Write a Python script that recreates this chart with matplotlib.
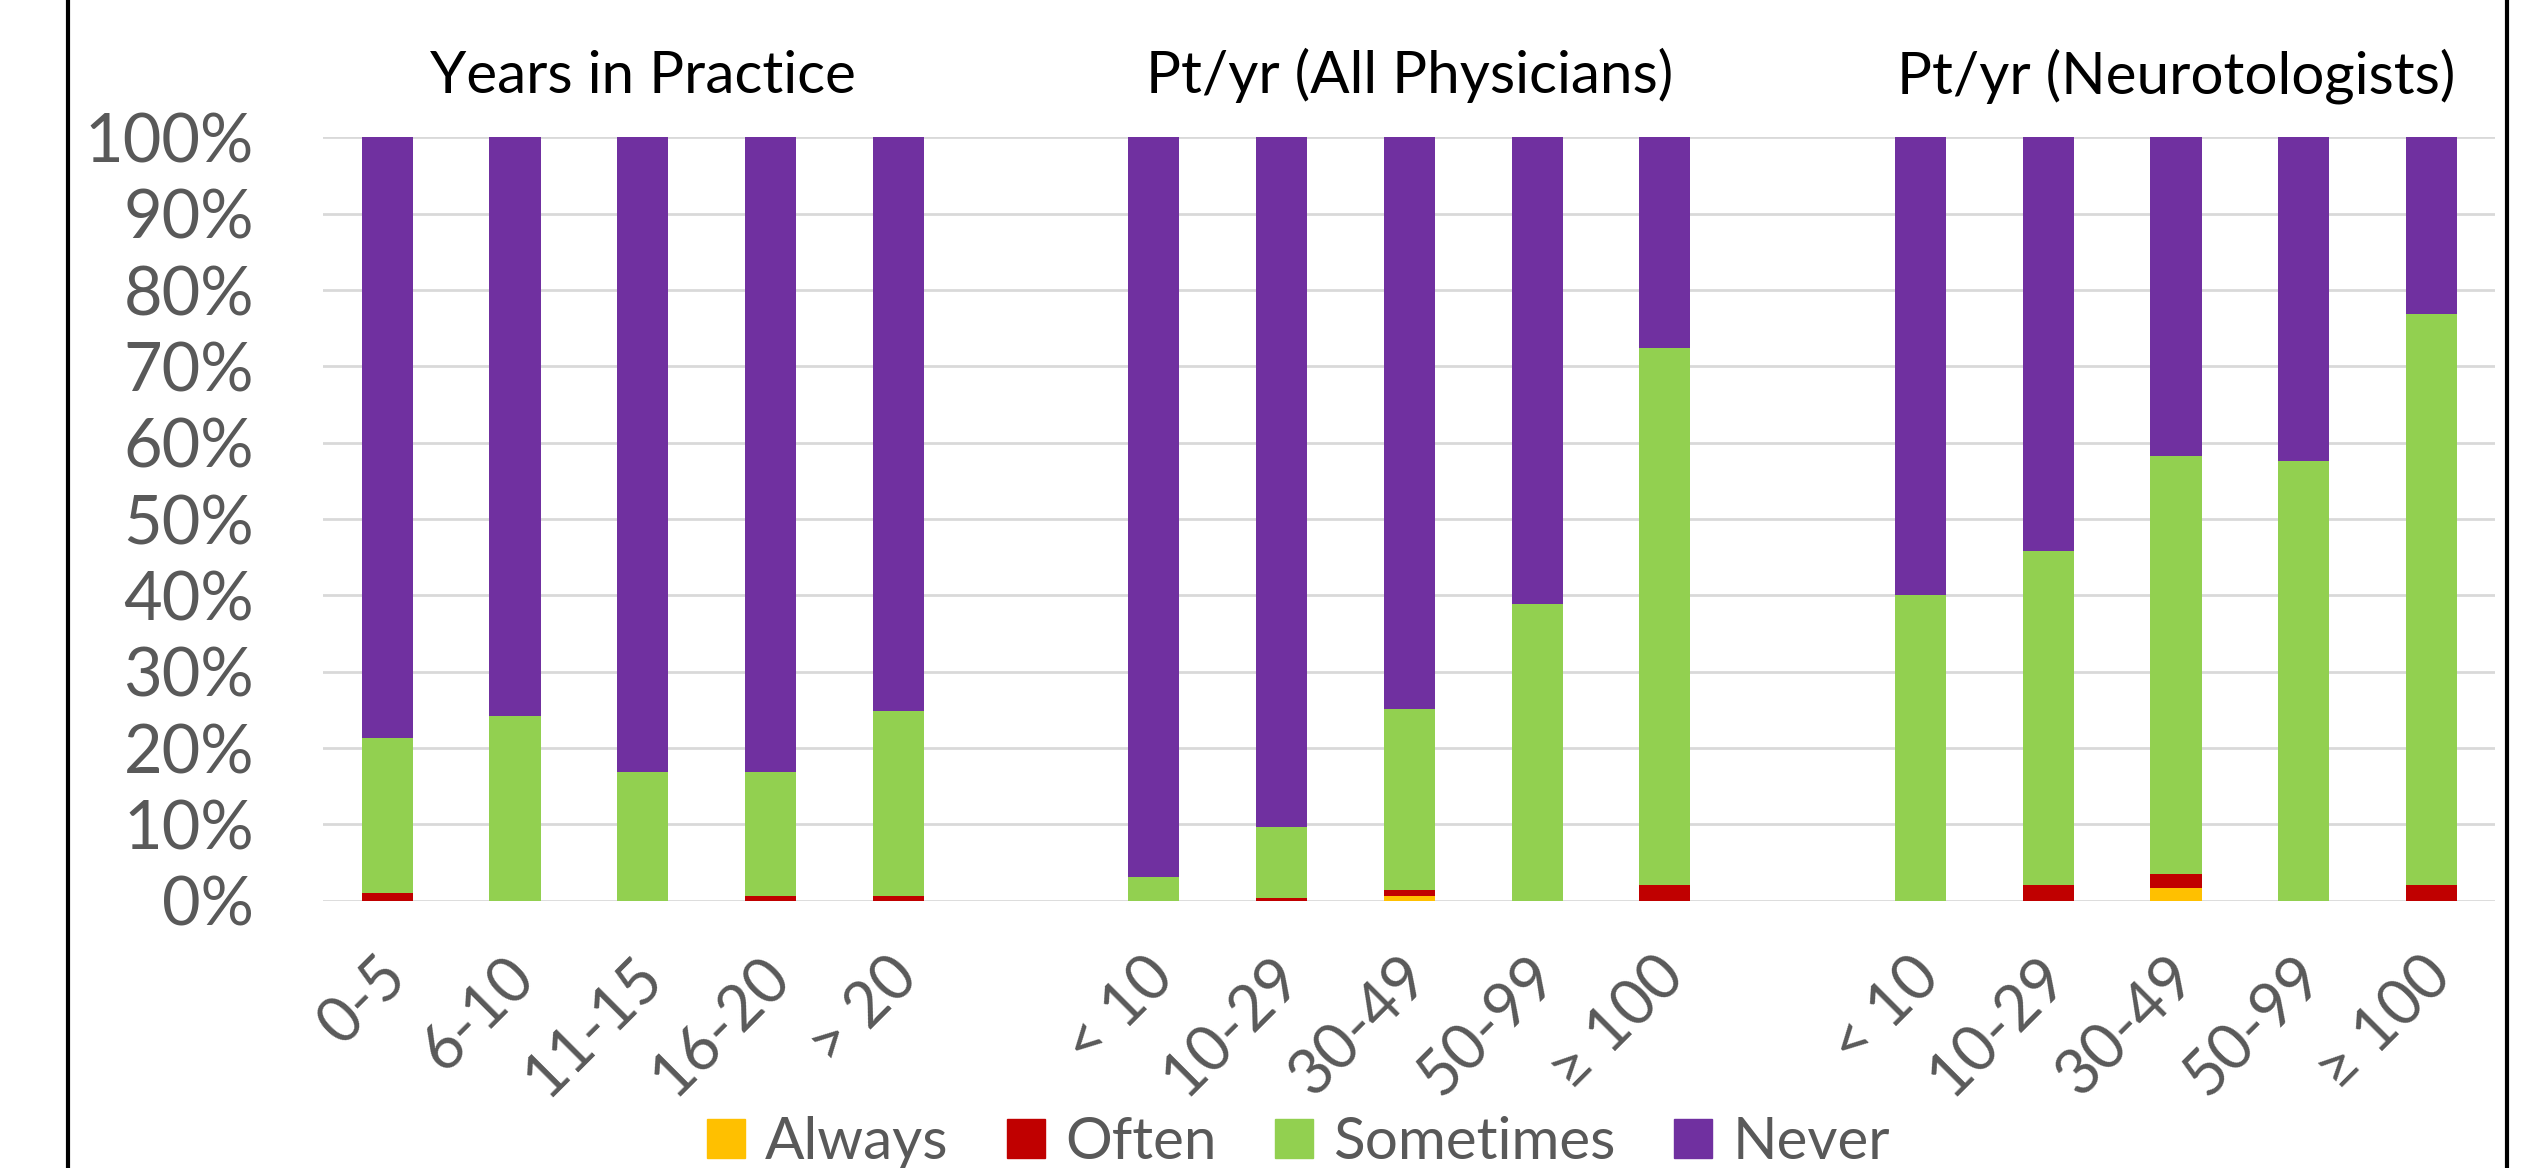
import numpy as np
import matplotlib
matplotlib.use('Agg')
import matplotlib.pyplot as plt
import matplotlib.transforms as mtransforms
from matplotlib.lines import Line2D
from matplotlib.patches import Patch

plt.rcParams['font.family'] = ['Lato', 'DejaVu Sans']

# groups of bars (percent of respondents)
group_titles = ['Years in Practice', 'Pt/yr (All Physicians)', 'Pt/yr (Neurotologists)']
years_labels = ['0-5', '6-10', '11-15', '16-20', '> 20']
pt_labels = ['< 10', '10-29', '30-49', '50-99', '≥ 100']

always_years = [0, 0, 0, 0, 0]
often_years = [1.0, 0, 0, 0.65, 0.65]
sometimes_years = [20.3, 24.2, 16.9, 16.25, 24.2]
never_years = [78.7, 75.8, 83.1, 83.1, 75.15]

always_all = [0, 0, 0.65, 0, 0]
often_all = [0, 0.3, 0.7, 0, 2.0]
sometimes_all = [3.1, 9.4, 23.75, 38.9, 70.4]
never_all = [96.9, 90.3, 74.9, 61.1, 27.6]

always_neuro = [0, 0, 1.7, 0, 0]
often_neuro = [0, 2.0, 1.8, 0, 2.0]
sometimes_neuro = [40.0, 43.8, 54.7, 57.6, 74.85]
never_neuro = [60.0, 54.2, 41.8, 42.4, 23.15]

series_names = ['Always', 'Often', 'Sometimes', 'Never']
colors = ['#FFC000', '#C00000', '#92D050', '#7030A0']
grey = '#595959'

groups = [
    (years_labels, [always_years, often_years, sometimes_years, never_years]),
    (pt_labels, [always_all, often_all, sometimes_all, never_all]),
    (pt_labels, [always_neuro, often_neuro, sometimes_neuro, never_neuro]),
]

fig = plt.figure(figsize=(25.36, 11.68), dpi=100)
ax = fig.add_axes([0.1275, 0.2289, 0.8565, 0.6534])

trans = mtransforms.blended_transform_factory(ax.transData, ax.transAxes)
tick_pos = []
tick_lab = []
for g, (labels, series) in enumerate(groups):
    x = np.arange(len(labels)) + g * 6
    bottom = np.zeros(len(labels))
    for vals, c in zip(series, colors):
        ax.bar(x, vals, 0.4, bottom=bottom, color=c, zorder=2)
        bottom += np.array(vals)
    tick_pos += list(x)
    tick_lab += labels
    ax.text(x.mean(), 1.058, group_titles[g], transform=trans, ha='center',
            va='baseline', fontsize=42, color='black')

ax.set_xlim(-0.5, 16.5)
ax.set_ylim(0, 100)
ax.set_yticks(range(0, 101, 10))
ax.set_yticklabels(['%d%%' % v for v in range(0, 101, 10)])
ax.set_xticks(tick_pos)
ax.set_xticklabels(tick_lab, rotation=45, ha='right', va='center',
                   rotation_mode='anchor')
ax.yaxis.grid(True, color='#D9D9D9', linewidth=2)
ax.set_axisbelow(True)
for s in ax.spines.values():
    s.set_visible(False)
ax.tick_params(axis='y', length=0, labelsize=48, colors=grey, pad=50)
ax.tick_params(axis='x', length=0, labelsize=45, colors=grey, pad=48)

# nudge rotated labels to the right, like Excel does
shift = mtransforms.ScaledTranslation(10 / 100, 0, fig.dpi_scale_trans)
for lab in ax.get_xticklabels():
    lab.set_transform(lab.get_transform() + shift)

handles = [Patch(color=c) for c in colors]
fig.legend(handles, series_names, loc='center', bbox_to_anchor=(0.512, 0.022),
           ncol=4, frameon=False, fontsize=42, handlelength=0.65,
           handleheight=0.65, handletextpad=0.35, columnspacing=1.0,
           labelcolor=grey)

# chart border (left/right edges)
for xb in [68 / 2536, 2507 / 2536]:
    fig.add_artist(Line2D([xb, xb], [0, 1], color='black', linewidth=3))

fig.savefig('out.png', dpi=100)
